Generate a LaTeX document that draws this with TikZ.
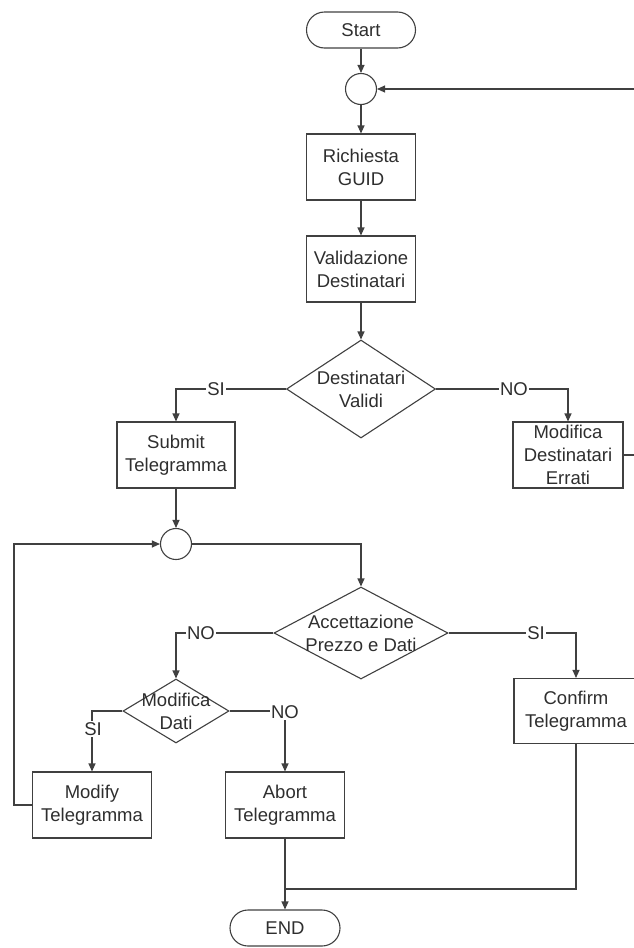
\documentclass[tikz,border=0pt]{standalone}
\usepackage{fontspec}
\setmainfont{Liberation Sans}
\usetikzlibrary{arrows.meta,shapes.geometric}
\definecolor{linegray}{HTML}{404040}
\definecolor{inkgray}{HTML}{2E2E2E}
\begin{document}
\begin{tikzpicture}[x=1pt, y=-1pt,
    every node/.style={font=\fontsize{18.5}{23}\selectfont, text=inkgray, align=center},
    every label/.style={font=\fontsize{18.5}{23}\selectfont, text=inkgray, align=center},
    box/.style={draw=linegray, line width=1.1pt, rectangle, inner sep=0pt, minimum width=109pt, minimum height=66pt},
    terminal/.style={draw=linegray, line width=1.1pt, rectangle, rounded corners=18pt, inner sep=0pt, minimum width=109pt, minimum height=36pt},
    junction/.style={draw=linegray, line width=1.1pt, circle, inner sep=0pt, minimum size=31pt},
    decision/.style={draw=linegray, line width=1.1pt, diamond, inner sep=0pt},
    flow/.style={draw=linegray, line width=1.1pt, -{Triangle[length=8pt,width=7pt]}},
    link/.style={draw=linegray, line width=1.1pt},
    lbl/.style={fill=white, inner sep=1pt}]
%% the page has the size of the reference, so the return line on the right runs off it
  \useasboundingbox (0,0) rectangle (633,948);
%% main column
  \node[terminal] (start) at (361,30) {Start};
  \node[junction] (c1) at (361,89) {};
  \node[box] (guid) at (361,167) {Richiesta\\GUID};
  \node[box] (valid) at (361,269) {Validazione\\Destinatari};
  \node[decision, minimum width=149pt, minimum height=98pt, label=center:{Destinatari\\Validi}] (dv) at (361,389) {};
  \node[box, minimum width=118pt] (submit) at (176,455) {Submit\\Telegramma};
  \node[box, minimum width=110pt] (errati) at (568,455) {Modifica\\Destinatari\\Errati};
%% second loop
  \node[junction] (c2) at (176,544) {};
  \node[decision, minimum width=174pt, minimum height=92pt, label=center:{Accettazione\\Prezzo e Dati}] (acc) at (361,633) {};
  \node[decision, minimum width=106pt, minimum height=64pt, label=center:{Modifica\\Dati}] (md) at (176,711) {};
  \node[box, minimum width=124pt, minimum height=65pt] (confirm) at (576,711) {Confirm\\Telegramma};
  \node[box, minimum width=119pt] (modify) at (92,805) {Modify\\Telegramma};
  \node[box, minimum width=119pt] (abort) at (285,805) {Abort\\Telegramma};
  \node[terminal, minimum width=110pt] (endn) at (285,928) {END};
  \coordinate (mrg) at (285,889);
%% connectors
  \draw[flow] (start) -- (c1);
  \draw[flow] (c1) -- (guid);
  \draw[flow] (guid) -- (valid);
  \draw[flow] (valid) -- (dv.north);
  \draw[flow] (dv.west) -| (submit.north);
  \draw[flow] (dv.east) -| (errati.north);
  \draw[flow] (errati.east) -- (645,455) |- (c1.east);
  \draw[flow] (submit) -- (c2);
  \draw[flow] (c2.east) -| (acc.north);
  \draw[flow] (acc.west) -| (md.north);
  \draw[flow] (acc.east) -| (confirm.north);
  \draw[flow] (md.west) -| (modify.north);
  \draw[flow] (md.east) -| (abort.north);
  \draw[flow] (modify.west) -- (14,805) |- (c2.west);
  \draw[flow] (abort) -- (endn);
  \draw[link] (confirm.south) |- (mrg);
%% labels on the branches
  \node[lbl] (si1) at (216,389) {SI};
  \node[lbl] (no1) at (514,389) {NO};
  \node[lbl] (no2) at (201,633) {NO};
  \node[lbl] (si2) at (536,633) {SI};
  \node[lbl] (si3) at (93,729) {SI};
  \node[lbl] (no3) at (285,712) {NO};
\end{tikzpicture}
\end{document}
